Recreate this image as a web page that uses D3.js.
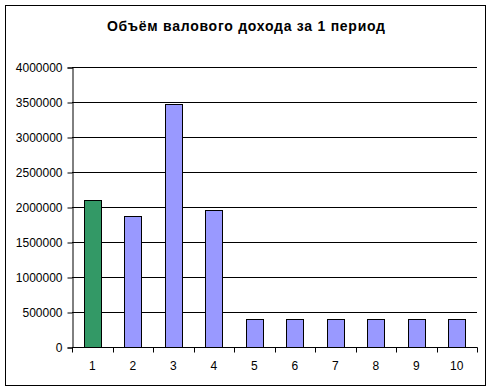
<!DOCTYPE html>
<html>
<head>
<meta charset="utf-8">
<script src="https://cdn.jsdelivr.net/npm/d3@7"></script>
<style>
  body { margin: 0; background: #fff; }
  text { font-family: "Liberation Sans", Arial, sans-serif; }
</style>
</head>
<body>
<svg width="491" height="390"></svg>
<script>
var periods = ['1', '2', '3', '4', '5', '6', '7', '8', '9', '10'];
var income = [2100000, 1870000, 3470000, 1960000, 395000, 395000, 395000, 395000, 395000, 395000];
var barColors = ['#339966', '#9999ff', '#9999ff', '#9999ff', '#9999ff', '#9999ff', '#9999ff', '#9999ff', '#9999ff', '#9999ff'];
var yTicks = [0, 500000, 1000000, 1500000, 2000000, 2500000, 3000000, 3500000, 4000000];
var title = 'Объём валового дохода за 1 период';

var svg = d3.select('svg');
var plotLeft = 72, plotRight = 477, plotTop = 67, plotBottom = 347;

// chart border
svg.append('rect')
    .attr('x', 5.5).attr('y', 5.5)
    .attr('width', 480).attr('height', 380)
    .attr('fill', 'white').attr('stroke', 'black').attr('stroke-width', 1);

svg.append('text')
    .attr('x', 107).attr('y', 31)
    .attr('font-size', 14).attr('font-weight', 'bold')
    .attr('textLength', 278).attr('lengthAdjust', 'spacing')
    .text(title);

var x = d3.scaleBand().domain(periods).range([plotLeft, plotRight]).paddingInner(0.58).paddingOuter(0.29);
var xb = d3.scaleBand().domain(periods).range([plotLeft, plotRight]);
var y = d3.scaleLinear().domain([0, 4000000]).range([plotBottom, plotTop]);

// gridlines
svg.append('g').selectAll('line.grid').data(yTicks.slice(1)).enter()
    .append('line')
    .attr('class', 'grid')
    .attr('x1', plotLeft).attr('x2', plotRight)
    .attr('y1', function (d) { return Math.round(y(d)) + 0.5; })
    .attr('y2', function (d) { return Math.round(y(d)) + 0.5; })
    .attr('stroke', 'black');

// bars
svg.append('g').selectAll('rect.bar').data(income).enter()
    .append('rect')
    .attr('class', 'bar')
    .attr('x', function (d, i) { return Math.round(x(periods[i])) + 0.5; })
    .attr('width', Math.round(x.bandwidth()))
    .attr('y', function (d) { return Math.round(y(d)) + 0.5; })
    .attr('height', function (d) { return Math.round(plotBottom - y(d)); })
    .attr('fill', function (d, i) { return barColors[i]; })
    .attr('stroke', 'black');

// y axis
var yAxis = svg.append('g')
    .attr('transform', 'translate(' + (plotLeft + 0.5) + ',0.5)')
    .call(d3.axisLeft(y).tickValues(yTicks).tickSize(5).tickPadding(5).tickFormat(d3.format('d')));
yAxis.selectAll('path, line').attr('stroke', 'black');
yAxis.selectAll('text').attr('font-size', 12).attr('fill', 'black')
    .attr('font-family', '"Liberation Sans", Arial, sans-serif');

// x axis
var xAxisG = svg.append('g').attr('transform', 'translate(0,' + (plotBottom + 0.5) + ')');
xAxisG.append('line')
    .attr('x1', plotLeft).attr('x2', plotRight + 0.5)
    .attr('stroke', 'black');
xAxisG.selectAll('line.tick').data(periods.concat(['end'])).enter()
    .append('line')
    .attr('class', 'tick')
    .attr('x1', function (d, i) { return Math.round(plotLeft + i * xb.bandwidth()) + 0.5; })
    .attr('x2', function (d, i) { return Math.round(plotLeft + i * xb.bandwidth()) + 0.5; })
    .attr('y1', 0).attr('y2', 5)
    .attr('stroke', 'black');
xAxisG.selectAll('text').data(periods).enter()
    .append('text')
    .attr('x', function (d) { return xb(d) + xb.bandwidth() / 2; })
    .attr('y', 22)
    .attr('text-anchor', 'middle')
    .attr('font-size', 12)
    .text(function (d) { return d; });
</script>
</body>
</html>
